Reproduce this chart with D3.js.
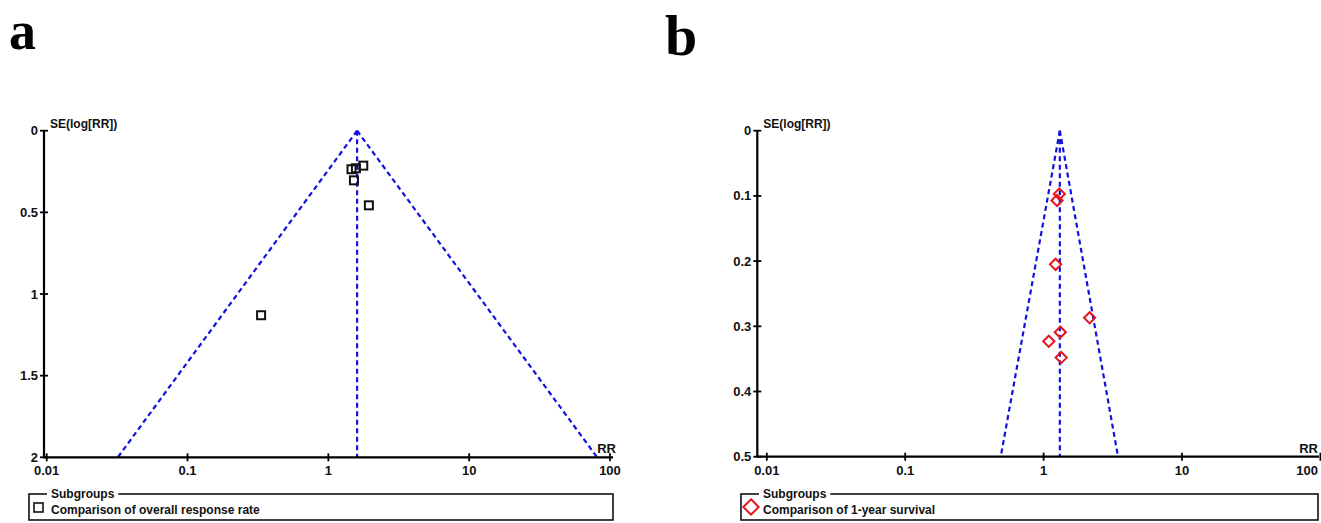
<!DOCTYPE html>
<html>
<head>
<meta charset="utf-8">
<script src="https://cdn.jsdelivr.net/npm/d3@7/dist/d3.min.js"></script>
<style>
html,body{margin:0;padding:0;background:#fff;}
svg{display:block;}
.lbl{font-family:"Liberation Sans Narrow","Liberation Sans",Arial,sans-serif;font-weight:bold;fill:#111;}
</style>
</head>
<body>
<svg id="chart" width="1321" height="523"></svg>
<script>
// ---- data ----
const xTicks = [0.01, 0.1, 1, 10, 100];
const xTickLabels = ["0.01", "0.1", "1", "10", "100"];

// panel a: overall response rate
const seTicksA = [0, 0.5, 1, 1.5, 2];
const seTickLabelsA = ["0", "0.5", "1", "1.5", "2"];
const rrA = [1.46, 1.57, 1.77, 1.52, 1.94, 0.333];
const seA = [0.236, 0.230, 0.214, 0.304, 0.457, 1.13];
const pooledA = 1.6;
const funnelA = [0.032, 81];   // funnel limits at max SE
const legendA = "Comparison of overall response rate";

// panel b: 1-year survival
const seTicksB = [0, 0.1, 0.2, 0.3, 0.4, 0.5];
const seTickLabelsB = ["0", "0.1", "0.2", "0.3", "0.4", "0.5"];
const rrB = [1.30, 1.25, 1.22, 2.15, 1.32, 1.09, 1.34];
const seB = [0.097, 0.107, 0.205, 0.287, 0.309, 0.323, 0.348];
const pooledB = 1.31;
const funnelB = [0.49, 3.45];
const legendB = "Comparison of 1-year survival";

const svg = d3.select("#chart");

function panel(cfg) {
  const g = svg.append("g");
  const x = d3.scaleLog().domain([0.01, 100]).range([cfg.x0, cfg.x1]);
  const y = d3.scaleLinear().domain([0, cfg.seMax]).range([cfg.y0, cfg.y1]);
  const blue = "#1212e0";

  // funnel
  const dash = "5,3.5";
  g.append("line").attr("x1", x(cfg.pooled)).attr("y1", y(0)).attr("x2", x(cfg.pooled)).attr("y2", y(cfg.seMax))
    .attr("stroke", blue).attr("stroke-width", 2.2).attr("stroke-dasharray", dash);
  cfg.funnel.forEach(v => {
    g.append("line").attr("x1", x(cfg.pooled)).attr("y1", y(0)).attr("x2", x(v)).attr("y2", y(cfg.seMax))
      .attr("stroke", blue).attr("stroke-width", 2.2).attr("stroke-dasharray", dash);
  });

  // axes
  g.append("line").attr("x1", cfg.ax).attr("y1", y(0)).attr("x2", cfg.ax).attr("y2", y(cfg.seMax))
    .attr("stroke", "#000").attr("stroke-width", 2.2);
  g.append("line").attr("x1", cfg.ax - 1).attr("y1", y(cfg.seMax)).attr("x2", cfg.axEnd).attr("y2", y(cfg.seMax))
    .attr("stroke", "#000").attr("stroke-width", 2.2);

  // y ticks
  cfg.seTicks.forEach((t, i) => {
    g.append("line").attr("x1", cfg.ax - 4).attr("x2", cfg.ax + 4).attr("y1", y(t)).attr("y2", y(t))
      .attr("stroke", "#000").attr("stroke-width", 1.8);
    g.append("text").attr("class", "lbl").attr("x", cfg.ax - 6).attr("y", y(t) + 4.5)
      .attr("text-anchor", "end").attr("font-size", 13).text(cfg.seTickLabels[i]);
  });
  // x ticks
  xTicks.forEach((t, i) => {
    g.append("line").attr("x1", x(t)).attr("x2", x(t)).attr("y1", y(cfg.seMax) - 4).attr("y2", y(cfg.seMax) + 4)
      .attr("stroke", "#000").attr("stroke-width", 1.8);
    let lx = x(t), anchor = "middle";
    if (cfg.clampRight && lx > cfg.clampRight - 10) { lx = cfg.clampRight; anchor = "end"; }
    g.append("text").attr("class", "lbl").attr("x", lx).attr("y", y(cfg.seMax) + 18)
      .attr("text-anchor", anchor).attr("font-size", 13).text(xTickLabels[i]);
  });
  // axis titles
  g.append("text").attr("class", "lbl").attr("x", cfg.ax + 6).attr("y", y(0) - 3)
    .attr("font-size", 12).text("SE(log[RR])");
  g.append("text").attr("class", "lbl").attr("x", cfg.rrX).attr("y", y(cfg.seMax) - 4)
    .attr("text-anchor", "end").attr("font-size", 13).text("RR");

  // points
  const pts = cfg.rr.map((r, i) => ({ r: r, s: cfg.se[i] }));
  if (cfg.shape === "square") {
    g.selectAll("rect.pt").data(pts).enter().append("rect").attr("class", "pt")
      .attr("x", d => x(d.r) - 4).attr("y", d => y(d.s) - 4).attr("width", 8).attr("height", 8)
      .attr("fill", "none").attr("stroke", "#111").attr("stroke-width", 2);
  } else {
    const sym = d3.symbol().type(d3.symbolDiamond2).size(80);
    g.selectAll("path.pt").data(pts).enter().append("path").attr("class", "pt")
      .attr("transform", d => `translate(${x(d.r)},${y(d.s)})`).attr("d", sym)
      .attr("fill", "none").attr("stroke", "#e8141c").attr("stroke-width", 2);
  }

  // legend
  const L = cfg.legend;
  g.append("rect").attr("x", L.x).attr("y", L.y).attr("width", L.w).attr("height", L.h)
    .attr("fill", "none").attr("stroke", "#111").attr("stroke-width", 1.6);
  const bg = g.append("rect").attr("fill", "#fff");
  const t = g.append("text").attr("class", "lbl").attr("x", L.x + 22).attr("y", L.y + 4)
    .attr("font-size", 12).text("Subgroups");
  const tw = t.node().getComputedTextLength();
  bg.attr("x", L.x + 18).attr("y", L.y - 3).attr("width", tw + 8).attr("height", 6);
  if (cfg.shape === "square") {
    g.append("rect").attr("x", L.x + 5).attr("y", L.y + 9).attr("width", 9).attr("height", 9)
      .attr("fill", "none").attr("stroke", "#111").attr("stroke-width", 1.6);
  } else {
    const sym = d3.symbol().type(d3.symbolDiamond2).size(150);
    g.append("path").attr("transform", `translate(${L.x + 10},${L.y + 13})`).attr("d", sym)
      .attr("fill", "#fff").attr("stroke", "#e8141c").attr("stroke-width", 2);
  }
  g.append("text").attr("class", "lbl").attr("x", L.x + 22).attr("y", L.y + 20)
    .attr("font-size", 12).text(cfg.legendText);
}

panel({
  x0: 46.7, x1: 610, y0: 130.7, y1: 457.3, ax: 44, axEnd: 613, seMax: 2,
  seTicks: seTicksA, seTickLabels: seTickLabelsA, rr: rrA, se: seA, pooled: pooledA, funnel: funnelA,
  shape: "square", rrX: 616, legendText: legendA,
  legend: { x: 29, y: 494, w: 584, h: 26 }
});
panel({
  x0: 766.8, x1: 1320.4, y0: 130.7, y1: 456.7, ax: 757.3, axEnd: 1319, seMax: 0.5,
  seTicks: seTicksB, seTickLabels: seTickLabelsB, rr: rrB, se: seB, pooled: pooledB, funnel: funnelB,
  shape: "diamond", rrX: 1318, clampRight: 1318, legendText: legendB,
  legend: { x: 741, y: 494, w: 577, h: 26 }
});

// panel letters
svg.append("text").attr("x", 9).attr("y", 49).attr("font-family", "Liberation Serif, Times New Roman, serif")
  .attr("font-weight", "bold").attr("font-size", 54).attr("fill", "#000").text("a");
svg.append("text").attr("x", 665).attr("y", 55).attr("font-family", "Liberation Serif, Times New Roman, serif")
  .attr("font-weight", "bold").attr("font-size", 58).attr("fill", "#000").text("b");
</script>
</body>
</html>
